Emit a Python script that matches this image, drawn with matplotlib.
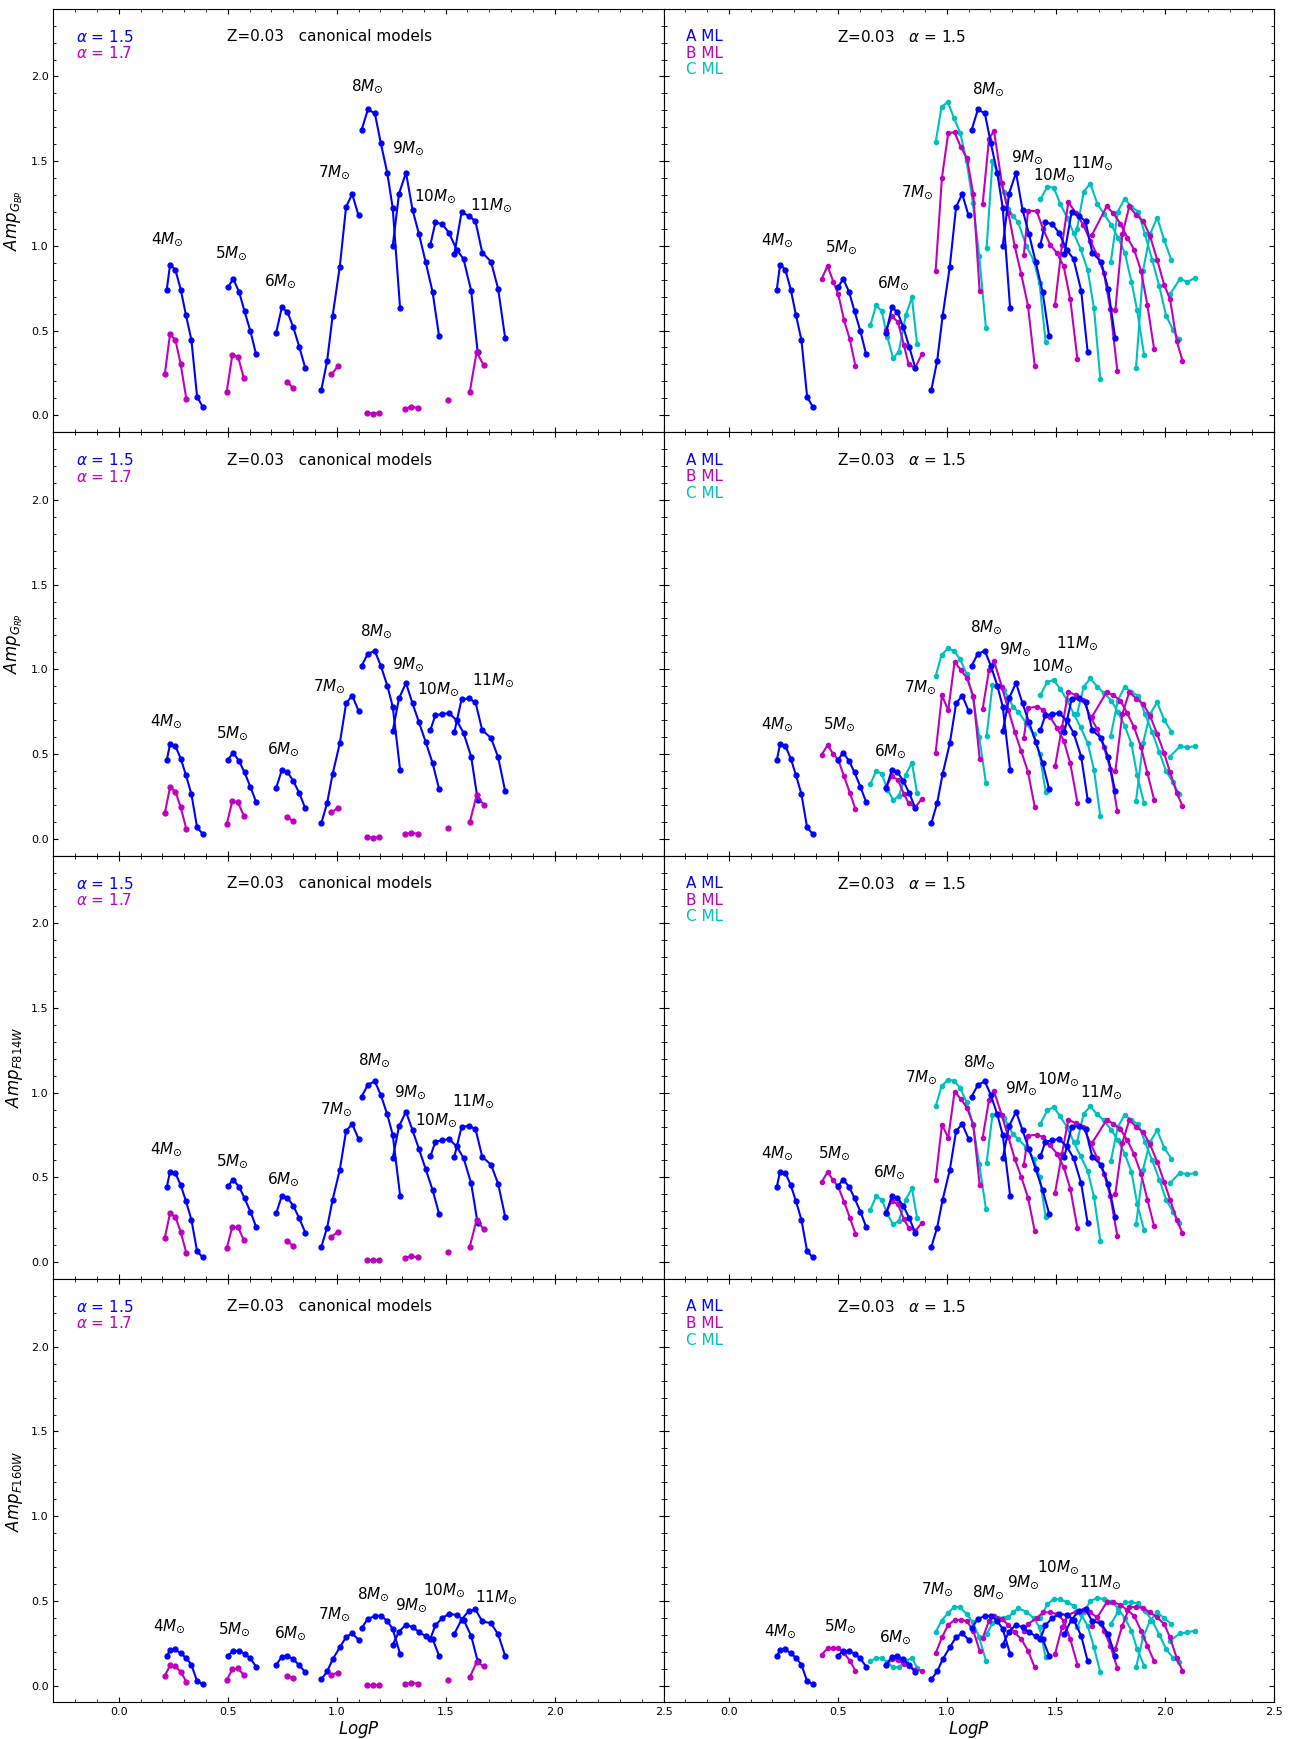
import matplotlib
matplotlib.use("Agg")
import matplotlib.pyplot as plt
from matplotlib.ticker import MultipleLocator

MASSES = ["4", "5", "6", "7", "8", "9", "10", "11"]

# logP of the canonical (A ML) models, alpha = 1.5, one list per mass
A_P = [
    [0.220, 0.235, 0.259, 0.284, 0.308, 0.333, 0.359, 0.384],
    [0.500, 0.525, 0.552, 0.577, 0.604, 0.630],
    [0.722, 0.748, 0.774, 0.801, 0.828, 0.856],
    [0.929, 0.956, 0.981, 1.014, 1.043, 1.071, 1.100],
    [1.114, 1.143, 1.175, 1.202, 1.232, 1.257, 1.291],
    [1.257, 1.286, 1.318, 1.348, 1.378, 1.408, 1.440, 1.470],
    [1.430, 1.453, 1.485, 1.515, 1.550, 1.582, 1.617, 1.647],
    [1.540, 1.573, 1.605, 1.637, 1.668, 1.708, 1.741, 1.773],
]
# logP, alpha = 1.7
S_P = [
    [0.211, 0.235, 0.260, 0.284, 0.310],
    [0.495, 0.521, 0.547, 0.573],
    [0.774, 0.800],
    [0.976, 1.005],
    [1.137, 1.165, 1.195],
    [1.313, 1.343, 1.373],
    [1.511],
    [1.611, 1.642, 1.675],
]
# logP, B ML
B_P = [
    [0.426, 0.453, 0.479, 0.502, 0.529, 0.555, 0.581],
    [0.721, 0.748, 0.776, 0.803, 0.825, 0.855, 0.886],
    [0.949, 0.978, 1.007, 1.036, 1.064, 1.093, 1.122, 1.151],
    [1.165, 1.194, 1.217, 1.253, 1.283, 1.312, 1.342, 1.373, 1.404],
    [1.354, 1.373, 1.413, 1.442, 1.475, 1.506, 1.537, 1.567, 1.600],
    [1.497, 1.529, 1.558, 1.592, 1.627, 1.659, 1.690, 1.722, 1.751, 1.783],
    [1.667, 1.734, 1.765, 1.797, 1.829, 1.860, 1.892, 1.921, 1.952],
    [1.774, 1.806, 1.838, 1.871, 1.901, 1.933, 1.966, 1.998, 2.025, 2.056, 2.082],
]
# logP, C ML
C_P = [
    [0.650, 0.676, 0.702, 0.728, 0.754, 0.780, 0.812, 0.840, 0.864],
    [0.949, 0.976, 1.005, 1.034, 1.062, 1.091, 1.120, 1.149, 1.180],
    [1.183, 1.210, 1.235, 1.261, 1.283, 1.304, 1.328, 1.365, 1.399, 1.426, 1.454],
    [1.430, 1.462, 1.491, 1.521, 1.552, 1.583, 1.615, 1.647, 1.676, 1.705],
    [1.598, 1.629, 1.659, 1.691, 1.721, 1.756, 1.786, 1.817, 1.848, 1.874, 1.906],
    [1.753, 1.785, 1.817, 1.848, 1.880, 1.910, 1.943, 1.976, 2.007, 2.039, 2.065],
    [1.869, 1.901, 1.933, 1.966, 1.998, 2.031],
    [2.025, 2.071, 2.105, 2.139],
]

# ---- amplitudes, G_BP ----
BP_A = [
    [0.742, 0.888, 0.860, 0.742, 0.591, 0.444, 0.110, 0.051],
    [0.754, 0.805, 0.727, 0.613, 0.495, 0.359],
    [0.487, 0.636, 0.609, 0.518, 0.404, 0.277],
    [0.147, 0.320, 0.585, 0.876, 1.230, 1.306, 1.180],
    [1.683, 1.805, 1.782, 1.609, 1.430, 1.224, 0.630],
    [0.999, 1.308, 1.432, 1.212, 1.068, 0.905, 0.728, 0.465],
    [1.007, 1.139, 1.127, 1.078, 0.978, 0.923, 0.736, 0.371],
    [0.952, 1.198, 1.178, 1.145, 0.960, 0.907, 0.746, 0.457],
]
BP_S = [
    [0.243, 0.479, 0.442, 0.300, 0.094],
    [0.139, 0.357, 0.345, 0.222],
    [0.198, 0.159],
    [0.241, 0.288],
    [0.013, 0.009, 0.013],
    [0.037, 0.051, 0.041],
    [0.090],
    [0.139, 0.373, 0.294],
]
BP_B = [
    [0.805, 0.882, 0.789, 0.715, 0.560, 0.448, 0.290],
    [0.503, 0.585, 0.550, 0.416, 0.302, 0.279, 0.363],
    [0.852, 1.402, 1.666, 1.670, 1.585, 1.516, 1.304, 0.736],
    [1.247, 1.630, 1.679, 1.369, 1.194, 0.998, 0.833, 0.646, 0.292],
    [0.947, 1.208, 1.204, 1.100, 1.006, 0.958, 0.878, 0.685, 0.330],
    [0.652, 1.004, 1.257, 1.196, 1.123, 1.029, 0.947, 0.837, 0.626, 0.263],
    [1.065, 1.233, 1.192, 1.131, 1.049, 0.978, 0.852, 0.650, 0.389],
    [0.619, 1.068, 1.233, 1.180, 1.147, 1.059, 0.917, 0.770, 0.685, 0.436, 0.322],
]
BP_C = [
    [0.534, 0.650, 0.613, 0.459, 0.336, 0.375, 0.591, 0.695, 0.420],
    [1.611, 1.819, 1.850, 1.752, 1.666, 1.501, 1.255, 0.941, 0.512],
    [0.990, 1.501, 1.428, 1.320, 1.220, 1.176, 1.139, 0.999, 0.915, 0.778, 0.434],
    [1.275, 1.349, 1.343, 1.249, 1.167, 1.074, 0.980, 0.856, 0.630, 0.214],
    [1.100, 1.320, 1.367, 1.249, 1.190, 1.123, 1.049, 0.960, 0.787, 0.619, 0.355],
    [0.903, 1.202, 1.279, 1.231, 1.200, 1.068, 0.917, 0.760, 0.587, 0.503, 0.450],
    [0.281, 0.852, 1.068, 1.167, 1.035, 0.915],
    [0.715, 0.805, 0.787, 0.811],
]

# ---- amplitudes, G_RP ----
RP_A = [
    [0.464, 0.558, 0.548, 0.473, 0.375, 0.263, 0.067, 0.029],
    [0.466, 0.507, 0.458, 0.391, 0.305, 0.216],
    [0.299, 0.405, 0.393, 0.340, 0.269, 0.179],
    [0.090, 0.210, 0.381, 0.562, 0.798, 0.845, 0.756],
    [1.020, 1.092, 1.108, 1.022, 0.904, 0.780, 0.407],
    [0.635, 0.829, 0.919, 0.798, 0.686, 0.572, 0.446, 0.293],
    [0.641, 0.730, 0.734, 0.742, 0.699, 0.625, 0.485, 0.230],
    [0.629, 0.822, 0.828, 0.805, 0.640, 0.595, 0.481, 0.281],
]
RP_S = [
    [0.151, 0.303, 0.277, 0.185, 0.055],
    [0.084, 0.222, 0.214, 0.136],
    [0.128, 0.102],
    [0.155, 0.183],
    [0.008, 0.006, 0.008],
    [0.026, 0.035, 0.028],
    [0.063],
    [0.098, 0.255, 0.200],
]
RP_B = [
    [0.496, 0.551, 0.500, 0.465, 0.367, 0.272, 0.174],
    [0.304, 0.369, 0.347, 0.265, 0.210, 0.184, 0.235],
    [0.506, 0.846, 0.758, 1.044, 0.997, 0.948, 0.840, 0.473],
    [0.766, 0.995, 1.048, 0.897, 0.760, 0.632, 0.516, 0.394, 0.188],
    [0.595, 0.771, 0.779, 0.762, 0.716, 0.655, 0.579, 0.445, 0.212],
    [0.426, 0.657, 0.866, 0.848, 0.819, 0.720, 0.648, 0.539, 0.412, 0.162],
    [0.720, 0.866, 0.846, 0.815, 0.740, 0.657, 0.540, 0.388, 0.229],
    [0.398, 0.736, 0.866, 0.826, 0.795, 0.726, 0.618, 0.504, 0.392, 0.270, 0.192],
]
RP_C = [
    [0.323, 0.400, 0.382, 0.290, 0.229, 0.251, 0.378, 0.449, 0.268],
    [0.958, 1.084, 1.123, 1.109, 1.058, 0.972, 0.834, 0.602, 0.327],
    [0.606, 0.907, 0.899, 0.879, 0.834, 0.779, 0.750, 0.681, 0.618, 0.500, 0.278],
    [0.848, 0.927, 0.936, 0.883, 0.819, 0.736, 0.657, 0.563, 0.406, 0.131],
    [0.736, 0.897, 0.946, 0.897, 0.860, 0.815, 0.746, 0.667, 0.559, 0.373, 0.209],
    [0.608, 0.815, 0.897, 0.864, 0.844, 0.736, 0.628, 0.510, 0.398, 0.333, 0.265],
    [0.225, 0.563, 0.736, 0.805, 0.701, 0.632],
    [0.485, 0.545, 0.540, 0.545],
]

# ---- amplitudes, F814W ----
I_A = [
    [0.444, 0.534, 0.527, 0.454, 0.360, 0.250, 0.065, 0.029],
    [0.448, 0.487, 0.444, 0.377, 0.297, 0.208],
    [0.287, 0.391, 0.379, 0.332, 0.259, 0.173],
    [0.088, 0.204, 0.367, 0.544, 0.774, 0.815, 0.729],
    [0.976, 1.047, 1.067, 0.988, 0.872, 0.752, 0.393],
    [0.613, 0.802, 0.888, 0.778, 0.666, 0.550, 0.426, 0.285],
    [0.625, 0.711, 0.719, 0.727, 0.684, 0.615, 0.466, 0.228],
    [0.623, 0.798, 0.804, 0.786, 0.621, 0.576, 0.462, 0.269],
]
I_S = [
    [0.145, 0.289, 0.265, 0.177, 0.053],
    [0.081, 0.210, 0.206, 0.132],
    [0.122, 0.096],
    [0.149, 0.179],
    [0.010, 0.010, 0.010],
    [0.026, 0.035, 0.028],
    [0.061],
    [0.092, 0.250, 0.193],
]
I_B = [
    [0.473, 0.532, 0.483, 0.444, 0.355, 0.263, 0.167],
    [0.296, 0.359, 0.342, 0.255, 0.204, 0.184, 0.231],
    [0.487, 0.811, 0.734, 1.007, 0.964, 0.911, 0.811, 0.457],
    [0.734, 0.958, 1.009, 0.866, 0.738, 0.611, 0.503, 0.381, 0.182],
    [0.573, 0.746, 0.752, 0.738, 0.689, 0.640, 0.561, 0.434, 0.200],
    [0.408, 0.640, 0.840, 0.821, 0.797, 0.703, 0.617, 0.522, 0.389, 0.153],
    [0.703, 0.840, 0.817, 0.785, 0.719, 0.636, 0.522, 0.369, 0.212],
    [0.404, 0.703, 0.840, 0.797, 0.768, 0.695, 0.593, 0.473, 0.369, 0.251, 0.169],
]
I_C = [
    [0.310, 0.389, 0.369, 0.282, 0.222, 0.243, 0.369, 0.436, 0.261],
    [0.919, 1.037, 1.076, 1.072, 1.027, 0.945, 0.813, 0.581, 0.314],
    [0.585, 0.870, 0.866, 0.852, 0.807, 0.754, 0.728, 0.675, 0.611, 0.503, 0.267],
    [0.817, 0.896, 0.915, 0.860, 0.797, 0.709, 0.624, 0.538, 0.385, 0.125],
    [0.709, 0.876, 0.919, 0.872, 0.837, 0.778, 0.719, 0.640, 0.532, 0.345, 0.188],
    [0.595, 0.797, 0.870, 0.837, 0.813, 0.709, 0.601, 0.487, 0.369, 0.296, 0.231],
    [0.222, 0.546, 0.709, 0.778, 0.675, 0.611],
    [0.467, 0.528, 0.518, 0.526],
]

# ---- amplitudes, F160W ----
H_A = [
    [0.174, 0.209, 0.213, 0.190, 0.164, 0.123, 0.026, 0.008],
    [0.176, 0.204, 0.204, 0.188, 0.160, 0.111],
    [0.121, 0.170, 0.174, 0.156, 0.119, 0.079],
    [0.036, 0.083, 0.154, 0.225, 0.287, 0.308, 0.271],
    [0.338, 0.395, 0.409, 0.413, 0.381, 0.334, 0.186],
    [0.241, 0.318, 0.360, 0.344, 0.316, 0.291, 0.275, 0.176],
    [0.277, 0.356, 0.399, 0.423, 0.417, 0.389, 0.294, 0.144],
    [0.306, 0.389, 0.439, 0.449, 0.379, 0.368, 0.302, 0.176],
]
H_S = [
    [0.057, 0.119, 0.113, 0.081, 0.022],
    [0.032, 0.095, 0.101, 0.063],
    [0.055, 0.045],
    [0.063, 0.077],
    [0.002, 0.002, 0.002],
    [0.010, 0.014, 0.012],
    [0.032],
    [0.049, 0.138, 0.115],
]
H_B = [
    [0.182, 0.220, 0.222, 0.220, 0.190, 0.147, 0.088],
    [0.123, 0.157, 0.151, 0.127, 0.117, 0.092, 0.088],
    [0.190, 0.284, 0.359, 0.386, 0.388, 0.379, 0.324, 0.206],
    [0.280, 0.383, 0.412, 0.392, 0.359, 0.314, 0.274, 0.206, 0.107],
    [0.320, 0.363, 0.398, 0.432, 0.432, 0.422, 0.383, 0.274, 0.123],
    [0.186, 0.343, 0.418, 0.436, 0.445, 0.432, 0.402, 0.324, 0.235, 0.104],
    [0.353, 0.491, 0.491, 0.477, 0.445, 0.412, 0.324, 0.235, 0.143],
    [0.216, 0.353, 0.461, 0.465, 0.457, 0.432, 0.402, 0.363, 0.284, 0.161, 0.088],
]
H_C = [
    [0.143, 0.163, 0.163, 0.137, 0.108, 0.108, 0.147, 0.163, 0.104],
    [0.314, 0.383, 0.426, 0.465, 0.461, 0.422, 0.373, 0.284, 0.147],
    [0.304, 0.367, 0.398, 0.400, 0.402, 0.432, 0.457, 0.436, 0.398, 0.343, 0.166],
    [0.398, 0.481, 0.510, 0.510, 0.491, 0.471, 0.422, 0.353, 0.225, 0.078],
    [0.343, 0.432, 0.500, 0.516, 0.510, 0.496, 0.457, 0.398, 0.324, 0.215, 0.117],
    [0.363, 0.432, 0.491, 0.491, 0.485, 0.441, 0.383, 0.300, 0.215, 0.163, 0.137],
    [0.108, 0.284, 0.383, 0.432, 0.398, 0.363],
    [0.265, 0.308, 0.314, 0.324],
]

# mass label positions (logP, amp) per panel
LBL_BP_L = [(0.221, 1.04), (0.515, 0.955), (0.742, 0.795), (0.987, 1.436),
            (1.140, 1.943), (1.327, 1.575), (1.452, 1.294), (1.707, 1.241)]
LBL_BP_R = [(0.221, 1.035), (0.518, 0.994), (0.753, 0.783), (0.863, 1.320),
            (1.192, 1.923), (1.370, 1.526), (1.495, 1.418), (1.667, 1.491)]
LBL_RP_L = [(0.220, 0.694), (0.521, 0.625), (0.756, 0.527), (0.967, 0.904),
            (1.180, 1.228), (1.328, 1.031), (1.468, 0.884), (1.718, 0.939)]
LBL_RP_R = [(0.224, 0.677), (0.508, 0.677), (0.740, 0.516), (0.878, 0.897),
            (1.184, 1.251), (1.315, 1.119), (1.483, 1.021), (1.600, 1.154)]
LBL_I_L = [(0.220, 0.666), (0.521, 0.595), (0.756, 0.489), (0.998, 0.906),
           (1.172, 1.191), (1.339, 1.004), (1.457, 0.837), (1.627, 0.949)]
LBL_I_R = [(0.224, 0.644), (0.485, 0.644), (0.737, 0.532), (0.883, 1.092),
           (1.151, 1.180), (1.342, 1.029), (1.514, 1.082), (1.710, 1.007)]
LBL_H_L = [(0.234, 0.352), (0.532, 0.332), (0.788, 0.310), (0.991, 0.421),
           (1.168, 0.543), (1.342, 0.474), (1.494, 0.567), (1.734, 0.520)]
LBL_H_R = [(0.237, 0.320), (0.511, 0.349), (0.763, 0.288), (0.956, 0.569),
           (1.192, 0.555), (1.350, 0.614), (1.514, 0.701), (1.705, 0.609)]

YLABELS = [r"$Amp_{G_{BP}}$", r"$Amp_{G_{RP}}$", r"$Amp_{F814W}$", r"$Amp_{F160W}$"]
ROWS = [
    (BP_A, BP_S, BP_B, BP_C, LBL_BP_L, LBL_BP_R),
    (RP_A, RP_S, RP_B, RP_C, LBL_RP_L, LBL_RP_R),
    (I_A, I_S, I_B, I_C, LBL_I_L, LBL_I_R),
    (H_A, H_S, H_B, H_C, LBL_H_L, LBL_H_R),
]

BLUE, MAG, CYAN = "#0000ff", "#bf00bf", "#00bfbf"

fig, axes = plt.subplots(4, 2, figsize=(12.89, 17.39), dpi=100, sharex=True, sharey=True)
fig.subplots_adjust(left=0.0415, right=0.988, top=0.995, bottom=0.021, wspace=0, hspace=0)


def curves(ax, P, amp, color, ms, lw=1.5):
    for x, y in zip(P, amp):
        ax.plot(x, y, "-o", color=color, ms=ms, lw=lw, mec=color)


def masslabels(ax, pos):
    for m, (x, y) in zip(MASSES, pos):
        ax.text(x, y, m + r"$M_{\odot}$", ha="center", va="center", fontsize=11)


for r, (amp_a, amp_s, amp_b, amp_c, lbl_l, lbl_r) in enumerate(ROWS):
    axl, axr = axes[r]
    # canonical models
    curves(axl, A_P, amp_a, BLUE, 3.5)
    curves(axl, S_P, amp_s, MAG, 3.5)
    masslabels(axl, lbl_l)
    axl.text(0.037, 0.934, r"$\alpha$ = 1.5", color=BLUE, fontsize=11,
             transform=axl.transAxes, va="center")
    axl.text(0.037, 0.895, r"$\alpha$ = 1.7", color=MAG, fontsize=11,
             transform=axl.transAxes, va="center")
    axl.text(0.285, 0.934, "Z=0.03   canonical models", fontsize=11,
             transform=axl.transAxes, va="center")
    axl.set_ylabel(YLABELS[r], fontsize=12)

    # mass-luminosity cases
    curves(axr, C_P, amp_c, CYAN, 3)
    curves(axr, B_P, amp_b, MAG, 3)
    curves(axr, A_P, amp_a, BLUE, 3.5)
    masslabels(axr, lbl_r)
    for k, (t, c) in enumerate([("A ML", BLUE), ("B ML", MAG), ("C ML", CYAN)]):
        axr.text(0.037, 0.934 - 0.039 * k, t, color=c, fontsize=11,
                 transform=axr.transAxes, va="center")
    axr.text(0.285, 0.934, r"Z=0.03   $\alpha$ = 1.5", fontsize=11,
             transform=axr.transAxes, va="center")

for ax in axes.flat:
    ax.set_xlim(-0.3, 2.5)
    ax.set_ylim(-0.1, 2.4)
    ax.xaxis.set_major_locator(MultipleLocator(0.5))
    ax.xaxis.set_minor_locator(MultipleLocator(0.1))
    ax.yaxis.set_major_locator(MultipleLocator(0.5))
    ax.yaxis.set_minor_locator(MultipleLocator(0.1))
    ax.tick_params(which="both", direction="in", top=True, right=True, labelsize=8)

for ax in axes[-1]:
    ax.set_xlabel(r"$LogP$", fontsize=12, labelpad=1)

fig.savefig("out.png", dpi=100)
